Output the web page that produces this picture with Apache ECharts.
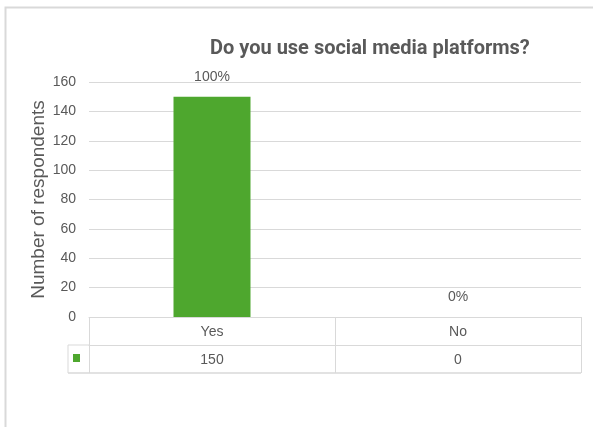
<!DOCTYPE html>
<html>
<head>
<meta charset="utf-8">
<script src="https://cdn.jsdelivr.net/npm/echarts@6/dist/echarts.min.js"></script>
<style>html,body{margin:0;padding:0;background:#fff;}#c{width:593px;height:427px;}</style>
</head>
<body>
<div id="c"></div>
<script>
const titleText = 'Do you use social media platforms?';
const yAxisName = 'Number of respondents';
const categories = ['Yes', 'No'];
const values = [150, 0];
const yTicks = [0, 20, 40, 60, 80, 100, 120, 140, 160];

const total = values.reduce((a, b) => a + b, 0);
const txt = '#595959';
const line = '#d9d9d9';
const green = '#4ea72e';

const chart = echarts.init(document.getElementById('c'));
chart.setOption({
  animation: false,
  backgroundColor: '#fff',
  title: {
    text: titleText, left: 205, top: 34,
    textStyle: { fontFamily: 'Roboto', fontWeight: 'bold', fontSize: 20, color: txt }
  },
  grid: { left: 89, right: 12, top: 82, bottom: 110 },
  xAxis: [{
    type: 'category', data: categories, position: 'bottom',
    axisLine: { show: true, lineStyle: { color: line, width: 1 } },
    axisTick: { show: true, length: 28, alignWithLabel: false, lineStyle: { color: line } },
    axisLabel: { color: txt, fontSize: 14, fontFamily: 'Liberation Sans', margin: 8 }
  }, {
    type: 'category', data: categories, position: 'bottom', offset: 28,
    axisLine: { show: true, lineStyle: { color: line, width: 1 } },
    axisTick: { show: true, length: 28, alignWithLabel: false, lineStyle: { color: line } },
    axisLabel: { color: txt, fontSize: 14, fontFamily: 'Liberation Sans', margin: 8,
      formatter: (v, i) => String(values[i]) }
  }],
  yAxis: {
    type: 'value', min: yTicks[0], max: yTicks[yTicks.length - 1], interval: yTicks[1] - yTicks[0],
    name: yAxisName, nameLocation: 'middle', nameGap: 41, nameRotate: 90, nameMoveOverlap: false,
    nameTextStyle: { color: txt, fontSize: 19, fontFamily: 'Liberation Sans' },
    axisLine: { show: false }, axisTick: { show: false },
    axisLabel: { color: txt, fontSize: 14, fontFamily: 'Liberation Sans', margin: 13 },
    splitLine: { lineStyle: { color: line, width: 1 } }
  },
  series: [{
    type: 'bar', data: values, barWidth: 77, xAxisIndex: 0,
    itemStyle: { color: green },
    label: {
      show: true, position: 'top', distance: 13, color: txt, fontSize: 14, fontFamily: 'Liberation Sans',
      formatter: p => Math.round(p.value / total * 100) + '%'
    }
  }],
  graphic: [
    { type: 'rect', shape: { x: 5.5, y: 7.5, width: 600, height: 440 }, style: { fill: 'none', stroke: '#d9d9d9', lineWidth: 2 }, silent: true },
    { type: 'line', shape: { x1: 68, y1: 373, x2: 581, y2: 373 }, style: { stroke: line, lineWidth: 1.5 } },
    { type: 'line', shape: { x1: 68, y1: 345, x2: 89, y2: 345 }, style: { stroke: line, lineWidth: 1 } },
    { type: 'line', shape: { x1: 68, y1: 345, x2: 68, y2: 373 }, style: { stroke: line, lineWidth: 1 } },
    { type: 'rect', shape: { x: 73, y: 354, width: 7, height: 8 }, style: { fill: green } }
  ]
});
</script>
</body>
</html>
